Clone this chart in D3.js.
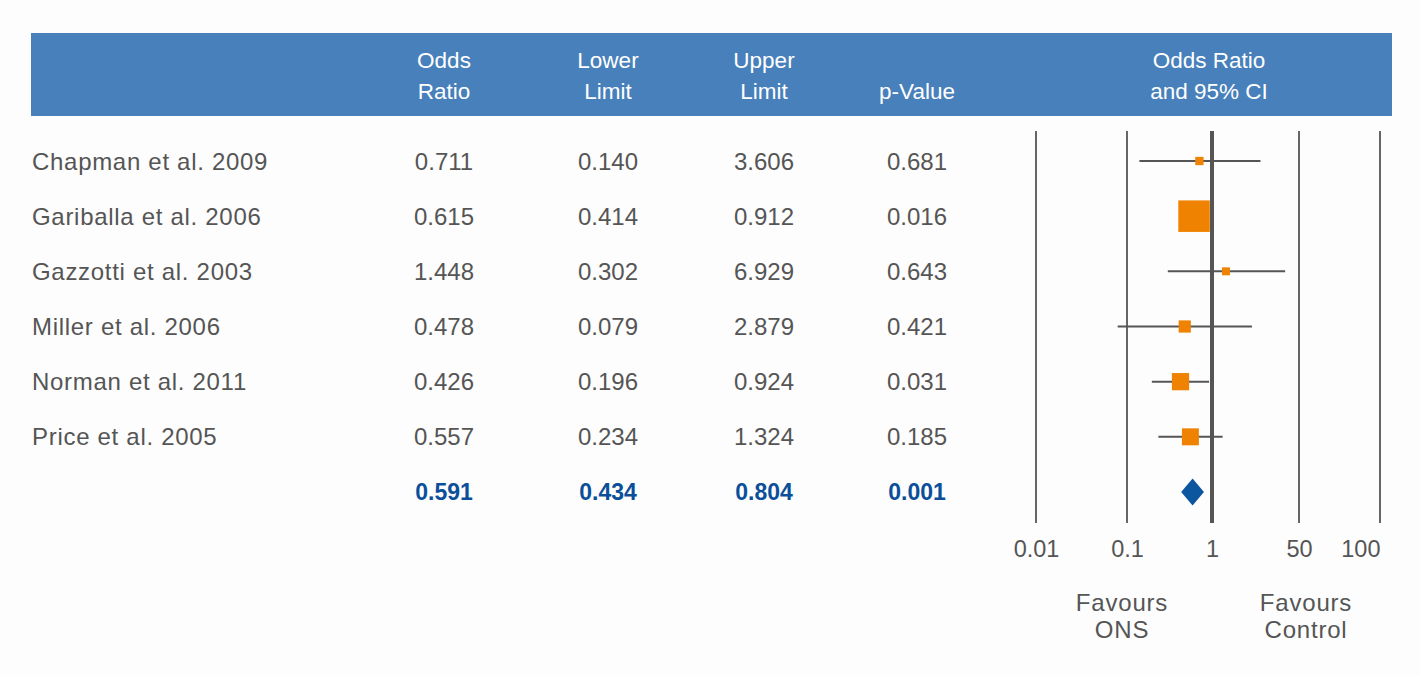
<!DOCTYPE html>
<html>
<head>
<meta charset="utf-8">
<script src="https://cdn.jsdelivr.net/npm/d3@7"></script>
<style>
  body { margin: 0; background: #fdfdfd; }
  svg { display: block; font-family: "Liberation Sans", Arial, sans-serif; }
</style>
</head>
<body>
<div id="forest"></div>
<script>
// study rows
var studies = ["Chapman et al. 2009", "Gariballa et al. 2006", "Gazzotti et al. 2003",
               "Miller et al. 2006", "Norman et al. 2011", "Price et al. 2005"];
var oddsRatio = [0.711, 0.615, 1.448, 0.478, 0.426, 0.557];
var lowerLimit = [0.140, 0.414, 0.302, 0.079, 0.196, 0.234];
var upperLimit = [3.606, 0.912, 6.929, 2.879, 0.924, 1.324];
var pValue = [0.681, 0.016, 0.643, 0.421, 0.031, 0.185];
// relative weight (%)
var weights = [3.7, 53.4, 3.4, 8.0, 16.0, 15.5];

// pooled result
var summary = { or: 0.591, lower: 0.434, upper: 0.804, p: 0.001 };

var headers = [["Odds", "Ratio"], ["Lower", "Limit"], ["Upper", "Limit"], ["", "p-Value"]];
var plotHeader = ["Odds Ratio", "and 95% CI"];
var tickValues = [0.01, 0.1, 1, 10, 100];
var tickLabels = ["0.01", "0.1", "1", "50", "100"];
var favours = [["Favours", "ONS"], ["Favours", "Control"]];

var width = 1420, height = 675;
var grey = "#555555", orange = "#ef8200", blue = "#0b4f9b";

var svg = d3.select("#forest").append("svg")
    .attr("width", width)
    .attr("height", height);

// header band
svg.append("rect")
    .attr("x", 31).attr("y", 33)
    .attr("width", 1361).attr("height", 83)
    .attr("fill", "#4880bb");

var colX = [444, 608, 764, 917];

var rowKeys = studies.concat(["Overall"]);
var yScale = d3.scalePoint()
    .domain(rowKeys)
    .range([161, 492]);

// log scale, the gridlines are spaced a bit unevenly in the original
var xScale = d3.scaleLog()
    .domain(tickValues)
    .range([1036, 1127, 1212, 1299, 1380]);

// header labels
headers.forEach(function(h, i) {
    h.forEach(function(line, j) {
        svg.append("text")
            .attr("x", colX[i])
            .attr("y", 68 + j * 31)
            .attr("text-anchor", "middle")
            .attr("fill", "#fff")
            .style("font-size", "22.5px")
            .text(line);
    });
});
plotHeader.forEach(function(line, j) {
    svg.append("text")
        .attr("x", 1209)
        .attr("y", 68 + j * 31)
        .attr("text-anchor", "middle")
        .attr("fill", "#fff")
        .style("font-size", "22.5px")
        .text(line);
});

// table
var rows = svg.append("g").attr("class", "rows")
    .selectAll("g")
    .data(studies)
    .join("g")
    .attr("transform", function(d) { return "translate(0," + yScale(d) + ")"; });

rows.append("text")
    .attr("x", 32)
    .attr("dy", "0.36em")
    .attr("fill", grey)
    .style("font-size", "24px")
    .style("letter-spacing", "0.7px")
    .text(function(d) { return d; });

[oddsRatio, lowerLimit, upperLimit, pValue].forEach(function(col, c) {
    rows.append("text")
        .attr("x", colX[c])
        .attr("dy", "0.36em")
        .attr("text-anchor", "middle")
        .attr("fill", grey)
        .style("font-size", "24px")
        .text(function(d, i) { return col[i].toFixed(3); });
});

[summary.or, summary.lower, summary.upper, summary.p].forEach(function(v, c) {
    svg.append("text")
        .attr("x", colX[c])
        .attr("y", yScale("Overall"))
        .attr("dy", "0.36em")
        .attr("text-anchor", "middle")
        .attr("fill", blue)
        .style("font-size", "23px")
        .style("font-weight", "bold")
        .text(v.toFixed(3));
});

// gridlines
svg.append("g").attr("class", "grid")
    .selectAll("line")
    .data(tickValues)
    .join("line")
    .attr("x1", function(d) { return xScale(d); })
    .attr("x2", function(d) { return xScale(d); })
    .attr("y1", 131).attr("y2", 523)
    .attr("stroke", function(d) { return d === 1 ? "#555" : "#666"; })
    .attr("stroke-width", function(d) { return d === 1 ? 4 : 2; });

// x axis labels
var axis = d3.axisBottom(xScale)
    .tickValues(tickValues)
    .tickFormat(function(d, i) { return tickLabels[i]; })
    .tickSize(0)
    .tickPadding(0);

var gx = svg.append("g")
    .attr("class", "x-axis")
    .attr("transform", "translate(0,540)")
    .call(axis);
gx.select(".domain").remove();
gx.selectAll("text")
    .attr("fill", grey)
    .style("font-size", "23.5px")
    .style("font-family", "'Liberation Sans', Arial, sans-serif");
gx.selectAll(".tick:last-child text").attr("text-anchor", "end");

// confidence intervals and squares
var sizeScale = d3.scaleSqrt()
    .domain([0, d3.max(weights)])
    .range([0, 31.5]);

var plot = svg.append("g").attr("class", "plot");

plot.selectAll("line.ci")
    .data(studies)
    .join("line")
    .attr("class", "ci")
    .attr("x1", function(d, i) { return xScale(lowerLimit[i]); })
    .attr("x2", function(d, i) { return xScale(upperLimit[i]); })
    .attr("y1", function(d) { return yScale(d); })
    .attr("y2", function(d) { return yScale(d); })
    .attr("stroke", grey)
    .attr("stroke-width", 2);

plot.selectAll("rect.or")
    .data(studies)
    .join("rect")
    .attr("class", "or")
    .attr("x", function(d, i) { return xScale(oddsRatio[i]) - sizeScale(weights[i]) / 2; })
    .attr("y", function(d, i) { return yScale(d) - sizeScale(weights[i]) / 2; })
    .attr("width", function(d, i) { return sizeScale(weights[i]); })
    .attr("height", function(d, i) { return sizeScale(weights[i]); })
    .attr("fill", orange);

// pooled diamond
var yo = yScale("Overall");
plot.append("path")
    .attr("d", "M" + xScale(summary.lower) + "," + yo +
               "L" + xScale(summary.or) + "," + (yo - 13.5) +
               "L" + xScale(summary.upper) + "," + yo +
               "L" + xScale(summary.or) + "," + (yo + 13.5) + "Z")
    .attr("fill", "#0c559f");

// favours labels
var favX = [xScale(0.1) - 5, xScale(10) + 7];
favours.forEach(function(f, i) {
    f.forEach(function(line, j) {
        svg.append("text")
            .attr("x", favX[i])
            .attr("y", 611 + j * 27)
            .attr("text-anchor", "middle")
            .attr("fill", grey)
            .style("font-size", "24px")
            .style("letter-spacing", "0.8px")
            .text(line);
    });
});
</script>
</body>
</html>
